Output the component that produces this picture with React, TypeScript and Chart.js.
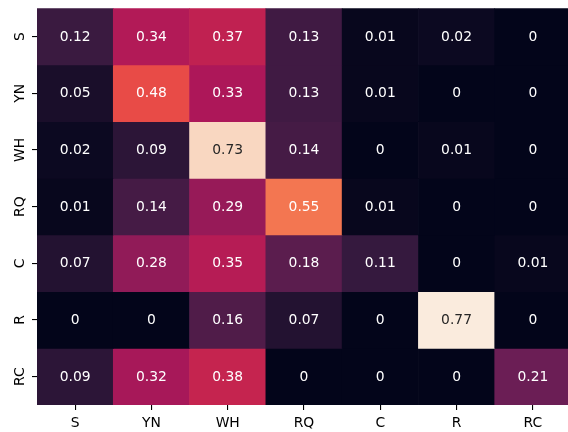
import React, { useEffect, useRef } from 'react';
import { Chart, registerables } from 'chart.js';

Chart.register(...registerables);

const rowLabels = ['S', 'YN', 'WH', 'RQ', 'C', 'R', 'RC'];
const colLabels = ['S', 'YN', 'WH', 'RQ', 'C', 'R', 'RC'];

const rowS = [0.12, 0.34, 0.37, 0.13, 0.01, 0.02, 0];
const rowYN = [0.05, 0.48, 0.33, 0.13, 0.01, 0, 0];
const rowWH = [0.02, 0.09, 0.73, 0.14, 0, 0.01, 0];
const rowRQ = [0.01, 0.14, 0.29, 0.55, 0.01, 0, 0];
const rowC = [0.07, 0.28, 0.35, 0.18, 0.11, 0, 0.01];
const rowR = [0, 0, 0.16, 0.07, 0, 0.77, 0];
const rowRC = [0.09, 0.32, 0.38, 0, 0, 0, 0.21];

const matrix = [rowS, rowYN, rowWH, rowRQ, rowC, rowR, rowRC];

// rocket colormap anchors
const rocket: [number, number, number, number][] = [
  [0 / 7, 3, 5, 26],
  [1 / 7, 53, 25, 62],
  [2 / 7, 112, 31, 87],
  [3 / 7, 173, 23, 89],
  [4 / 7, 225, 51, 66],
  [5 / 7, 243, 118, 81],
  [6 / 7, 246, 180, 143],
  [7 / 7, 250, 235, 221],
];

function rocketRGB(t: number): [number, number, number] {
  const x = Math.max(0, Math.min(1, t));
  for (let i = 0; i < rocket.length - 1; i++) {
    const a = rocket[i];
    const b = rocket[i + 1];
    if (x <= b[0]) {
      const f = (x - a[0]) / (b[0] - a[0]);
      return [
        Math.round(a[1] + (b[1] - a[1]) * f),
        Math.round(a[2] + (b[2] - a[2]) * f),
        Math.round(a[3] + (b[3] - a[3]) * f),
      ];
    }
  }
  const l = rocket[rocket.length - 1];
  return [l[1], l[2], l[3]];
}

function lum(rgb: [number, number, number]) {
  const c = rgb.map((v) => {
    const s = v / 255;
    return s <= 0.03928 ? s / 12.92 : Math.pow((s + 0.055) / 1.055, 2.4);
  });
  return 0.2126 * c[0] + 0.7152 * c[1] + 0.0722 * c[2];
}

const allVals = matrix.flat();
const vmin = Math.min(...allVals);
const vmax = Math.max(...allVals);

function colorFor(v: number) {
  return rocketRGB((v - vmin) / (vmax - vmin));
}

const FONT = 'DejaVu Sans';

const annotatePlugin = {
  id: 'annotate',
  afterDatasetsDraw(chart: any) {
    const ctx = chart.ctx;
    ctx.save();
    ctx.font = `13.89px "${FONT}"`;
    ctx.textAlign = 'center';
    ctx.textBaseline = 'middle';
    chart.data.datasets.forEach((ds: any, i: number) => {
      const meta = chart.getDatasetMeta(i);
      meta.data.forEach((el: any, j: number) => {
        const v = matrix[i][j];
        const rgb = colorFor(v);
        ctx.fillStyle = lum(rgb) > 0.408 ? '#262626' : '#ffffff';
        const p = el.getCenterPoint();
        ctx.fillText(String(Number(v.toPrecision(2))), p.x, p.y + 0.5);
      });
    });
    ctx.restore();
  },
};

export default function App() {
  const ref = useRef<HTMLCanvasElement>(null);
  useEffect(() => {
    if (!ref.current) return;
    const datasets = matrix.map((row, i) => ({
      label: rowLabels[i],
      data: row.map(() => [i, i + 1]),
      backgroundColor: row.map((v) => {
        const c = colorFor(v);
        return `rgb(${c[0]},${c[1]},${c[2]})`;
      }),
      borderWidth: 0,
      barPercentage: 1,
      categoryPercentage: 1,
    }));
    const chart = new Chart(ref.current, {
      type: 'bar',
      data: { labels: colLabels, datasets: datasets as any },
      plugins: [annotatePlugin],
      options: {
        animation: false,
        responsive: false,
        devicePixelRatio: 1,
        layout: { padding: { top: 7, left: 0, right: 0, bottom: 0 } },
        plugins: { legend: { display: false }, tooltip: { enabled: false } },
        scales: {
          x: {
            type: 'category',
            stacked: true,
            offset: true,
            border: { display: false },
            grid: {
              drawOnChartArea: false,
              offset: false,
              tickLength: 5,
              color: '#000',
              lineWidth: 1.1,
            },
            ticks: {
              color: '#000',
              font: { family: FONT, size: 13.89 },
              padding: 5,
              maxRotation: 0,
              minRotation: 0,
            },
            afterFit: (s: any) => {
              s.height = 27;
            },
          },
          y: {
            type: 'linear',
            min: 0,
            max: 7,
            reverse: true,
            border: { display: false },
            grid: {
              drawOnChartArea: false,
              tickLength: 5,
              color: '#000',
              lineWidth: 1.1,
            },
            afterBuildTicks: (s: any) => {
              s.ticks = rowLabels.map((_, i) => ({ value: i + 0.5 }));
            },
            ticks: {
              color: '#000',
              font: { family: FONT, size: 13.89 },
              padding: 0,
              minRotation: 90,
              maxRotation: 90,
              crossAlign: 'center',
              callback: (v: any) => rowLabels[Math.floor(Number(v))],
            },
            afterFit: (s: any) => {
              s.width = 37;
            },
          },
        },
      },
    });
    return () => chart.destroy();
  }, []);
  return (
    <div
      style={{
        position: 'fixed',
        left: 0,
        top: 0,
        width: 568,
        height: 432,
        overflow: 'hidden',
        background: '#fff',
      }}
    >
      <canvas ref={ref} width={571} height={432} style={{ display: 'block' }} />
    </div>
  );
}
